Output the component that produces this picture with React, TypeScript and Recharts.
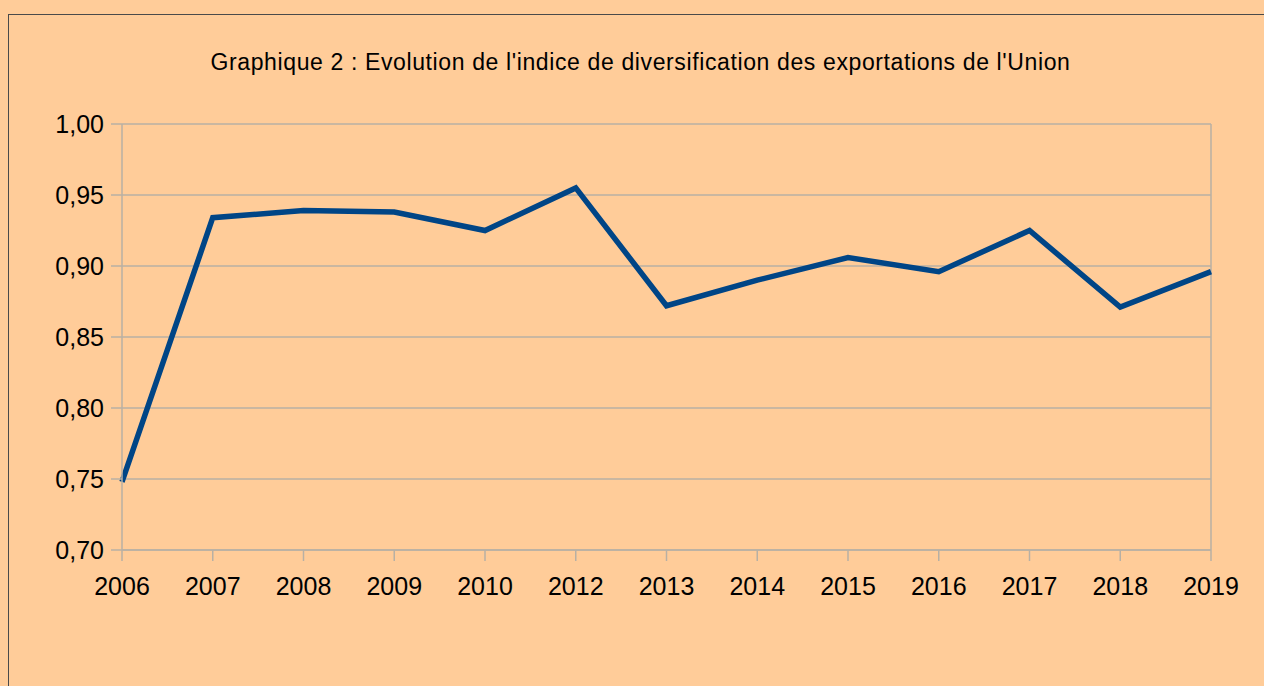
import React from "react";
import {
  LineChart,
  Line,
  XAxis,
  YAxis,
  CartesianGrid,
  ReferenceLine,
} from "recharts";

const years = [
  "2006", "2007", "2008", "2009", "2010", "2012", "2013",
  "2014", "2015", "2016", "2017", "2018", "2019",
];
const indexValues = [
  0.748, 0.934, 0.939, 0.938, 0.925, 0.955, 0.872,
  0.89, 0.906, 0.896, 0.925, 0.871, 0.896,
];
const yTicks = [0.7, 0.75, 0.8, 0.85, 0.9, 0.95, 1.0];

const data = years.map((year, i) => ({ year, value: indexValues[i] }));

const GRID = "#b8b0a4";
const FONT = "'Liberation Sans', Arial, sans-serif";

const fmt = (v: number) => v.toFixed(2).replace(".", ",");

const App = () => {
  return (
    <div
      style={{
        position: "absolute",
        left: 0,
        top: 0,
        width: 1264,
        height: 686,
        background: "#ffcc99",
        overflow: "hidden",
        fontFamily: FONT,
      }}
    >
      <div
        style={{
          position: "absolute",
          left: 8,
          top: 14,
          width: 1300,
          height: 700,
          border: "1px solid #4a4a4a",
        }}
      />
      <div
        style={{
          position: "absolute",
          left: 0,
          top: 49,
          width: 1281,
          textAlign: "center",
          fontSize: 23,
          letterSpacing: 0.62,
          color: "#000",
        }}
      >
        Graphique 2 : Evolution de l'indice de diversification des exportations de l'Union
      </div>
      <div style={{ position: "absolute", left: 0, top: 0 }}>
        <LineChart
          width={1264}
          height={686}
          data={data}
          margin={{ top: 124, right: 53, bottom: 76, left: 0 }}
        >
          <CartesianGrid vertical={false} stroke={GRID} strokeWidth={1.5} />
          <XAxis
            dataKey="year"
            height={60}
            stroke={GRID}
            strokeWidth={1.5}
            tickSize={11}
            tickMargin={16}
            interval={0}
            tick={{ fontSize: 25, fill: "#000", fontFamily: FONT }}
          />
          <YAxis
            width={122}
            domain={[0.7, 1]}
            ticks={yTicks}
            tickFormatter={fmt}
            stroke={GRID}
            strokeWidth={1.5}
            tickSize={11}
            tickMargin={7}
            tick={{ fontSize: 25, fill: "#000", fontFamily: FONT }}
          />
          <ReferenceLine x="2019" stroke={GRID} strokeWidth={1.5} />
          <Line
            type="linear"
            dataKey="value"
            stroke="#004586"
            strokeWidth={5.5}
            dot={false}
            strokeLinejoin="miter"
            isAnimationActive={false}
          />
        </LineChart>
      </div>
    </div>
  );
};

export default App;
